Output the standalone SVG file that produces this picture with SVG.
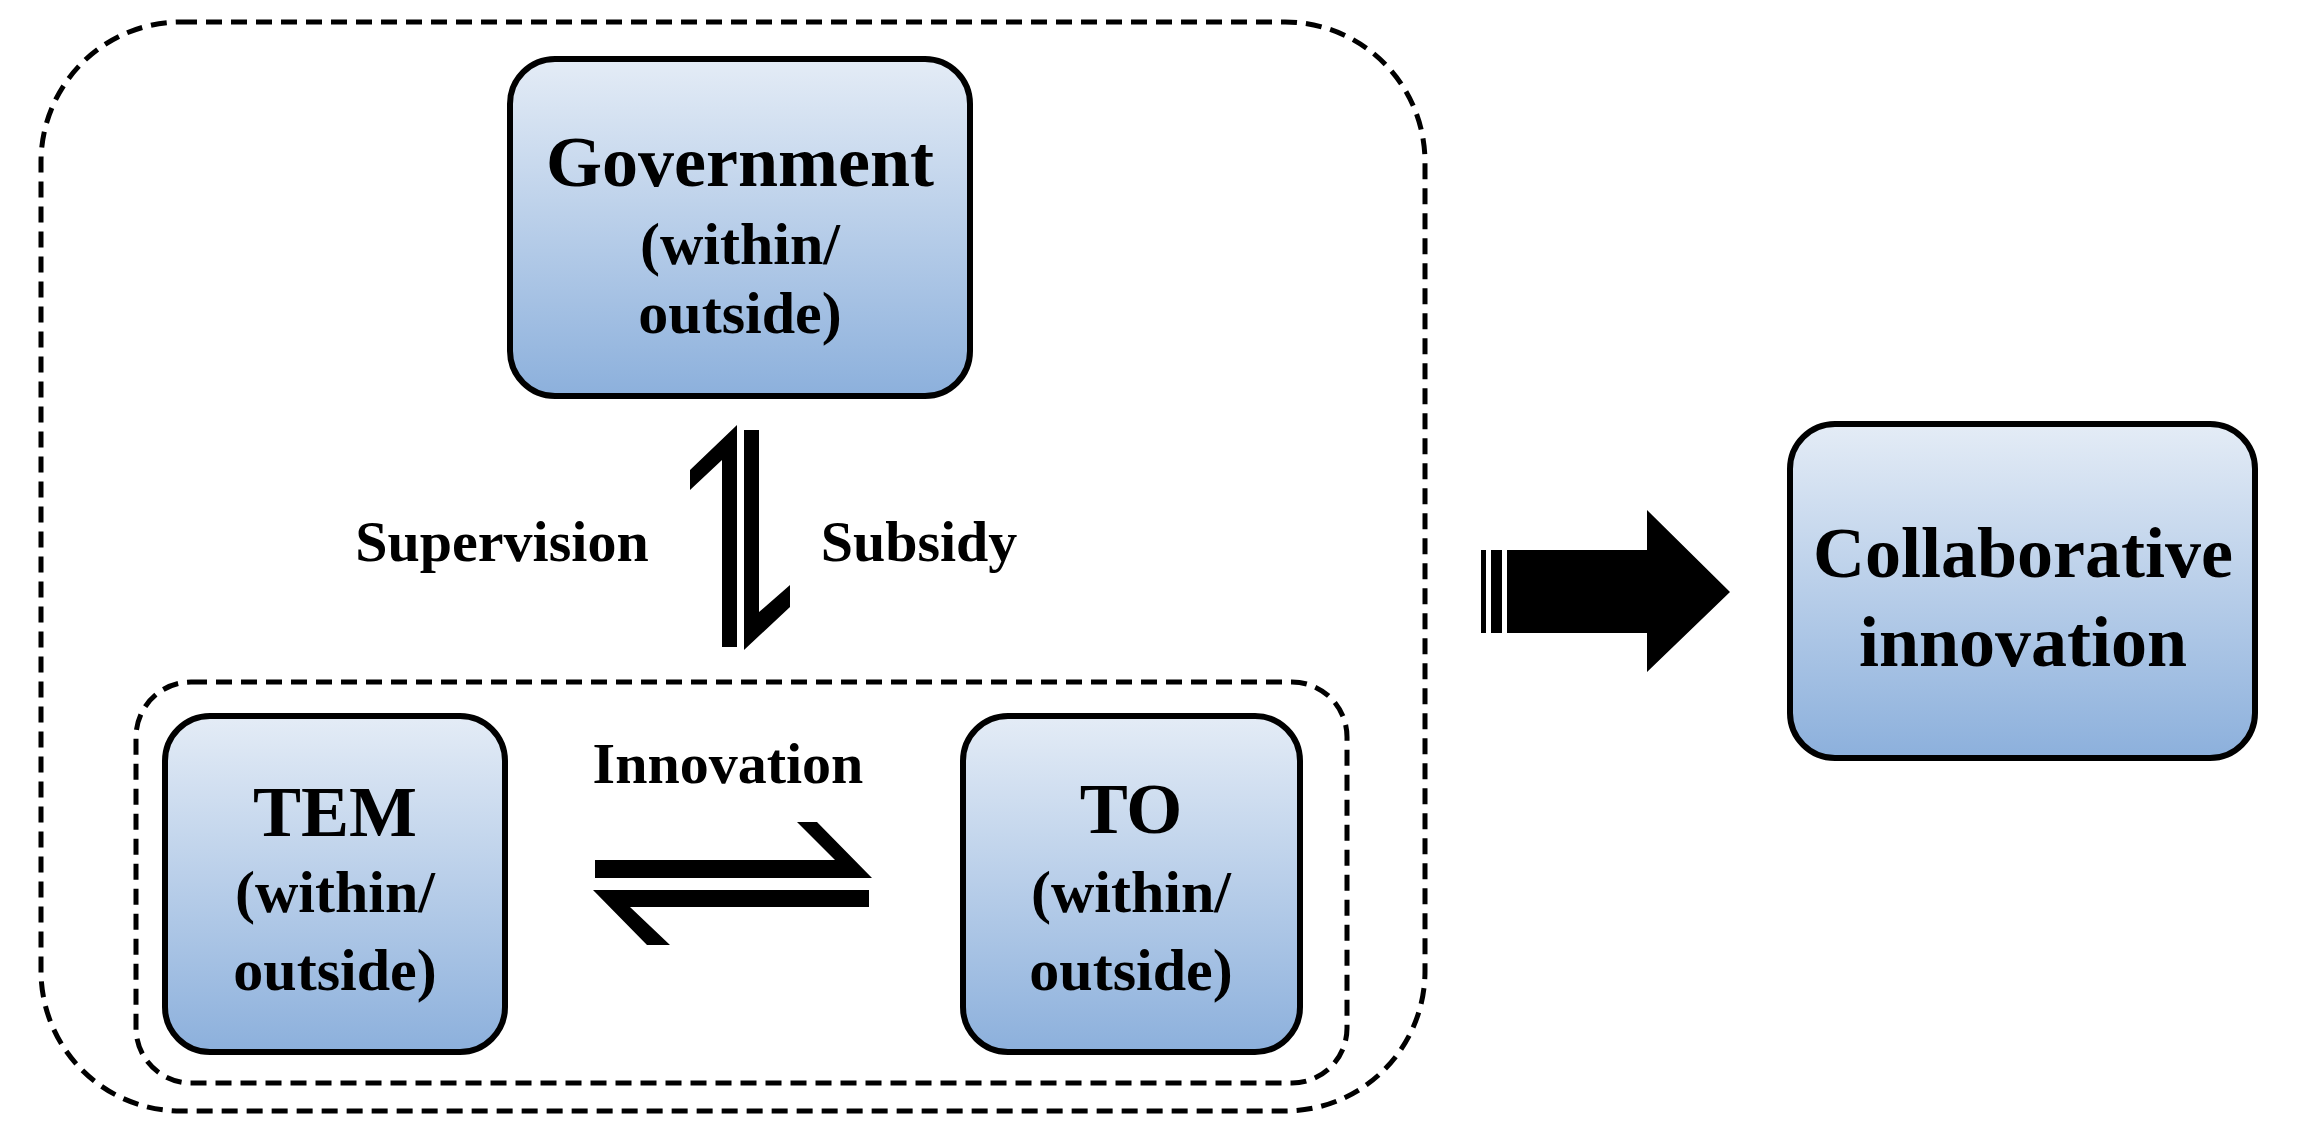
<svg xmlns="http://www.w3.org/2000/svg" width="2316" height="1148" viewBox="0 0 2316 1148">
<defs>
<linearGradient id="g" x1="0" y1="0" x2="0" y2="1">
<stop offset="0" stop-color="#e4ecf6"/><stop offset="1" stop-color="#8cb0dc"/>
</linearGradient>
<style>
.box{fill:url(#g);stroke:#000;stroke-width:6}
.dash{fill:none;stroke:#000;stroke-width:5;stroke-dasharray:16 9}
text{font-family:"Liberation Serif",serif;font-weight:bold;fill:#000;text-anchor:middle}
.t{font-size:72px}.s{font-size:60px}.l{font-size:58px}
</style>
</defs>
<rect class="dash" x="41" y="22" width="1384" height="1089" rx="140"/>
<rect class="dash" x="136" y="682" width="1211" height="401" rx="55"/>
<g id="government"><rect class="box" x="510" y="59" width="460" height="337" rx="45"/>
<text class="t" x="740" y="186">Government</text><text class="s" x="740" y="264">(within/</text><text class="s" x="740" y="333">outside)</text></g>
<g id="tem"><rect class="box" x="165" y="716" width="340" height="336" rx="45"/>
<text class="t" x="335" y="836">TEM</text><text class="s" x="335" y="912">(within/</text><text class="s" x="335" y="990">outside)</text></g>
<g id="to"><rect class="box" x="963" y="716" width="337" height="336" rx="45"/>
<text class="t" x="1131" y="833">TO</text><text class="s" x="1131" y="912">(within/</text><text class="s" x="1131" y="990">outside)</text></g>
<g id="collab"><rect class="box" x="1790" y="424" width="465" height="334" rx="45"/>
<text class="t" x="2023" y="577">Collaborative</text><text class="t" x="2023" y="666">innovation</text></g>
<g id="connectors">
<polygon points="722,647 722,460 690,490 690,470 737,425 737,647"/>
<polygon points="744,430 759,430 759,612 790,585 790,607 744,650"/>
<polygon points="595,860 835,860 797,822 817,822 872,878 595,878"/>
<polygon points="869,890 869,907 630,907 670,945 647,945 593,890"/>
<rect x="1481" y="550" width="5" height="83"/><rect x="1491" y="550" width="11" height="83"/>
<polygon points="1507,550 1647,550 1647,510 1730,592 1647,672 1647,633 1507,633"/>
<text class="l" x="502" y="561">Supervision</text>
<text class="l" x="919" y="561">Subsidy</text>
<text class="l" x="728" y="783">Innovation</text>
</g>
</svg>
